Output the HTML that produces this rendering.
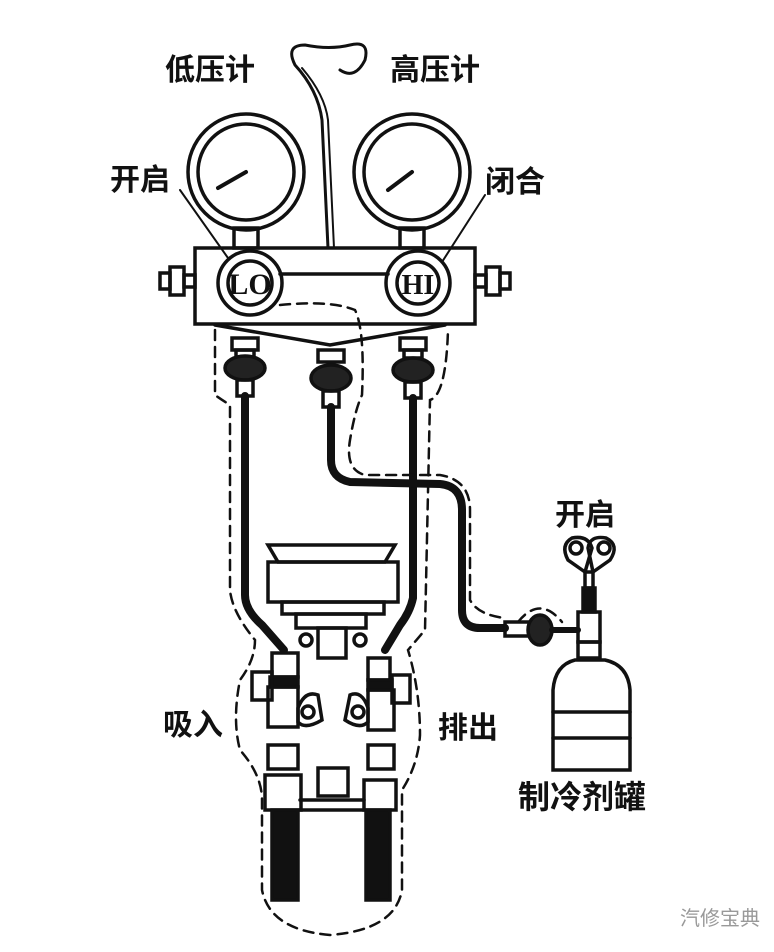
<!DOCTYPE html>
<html><head><meta charset="utf-8"><style>
html,body{margin:0;padding:0;background:#fff;}
svg{display:block;}
text{font-family:"Liberation Sans","Noto Sans CJK SC",sans-serif;fill:#111;}
</style></head><body>
<svg width="774" height="952" viewBox="0 0 774 952" xmlns="http://www.w3.org/2000/svg">
<text x="165" y="80" font-size="30" font-weight="bold">低压计</text>
<text x="390" y="80" font-size="30" font-weight="bold">高压计</text>
<text x="110" y="190" font-size="30" font-weight="bold">开启</text>
<text x="485" y="192" font-size="30" font-weight="bold">闭合</text>
<text x="555" y="525" font-size="30" font-weight="bold">开启</text>
<text x="163" y="735" font-size="30" font-weight="bold">吸入</text>
<text x="438" y="738" font-size="30" font-weight="bold">排出</text>
<text x="518" y="808" font-size="32" font-weight="bold">制冷剂罐</text>
<text x="680" y="925" font-size="20" style="fill:#999">汽修宝典</text>
<text x="250" y="294" font-size="30" text-anchor="middle" style="font-family:'Liberation Serif',serif" font-weight="bold">LO</text>
<text x="418" y="294" font-size="28" text-anchor="middle" style="font-family:'Liberation Serif',serif" font-weight="bold">HI</text>

<g stroke="#111" fill="none" stroke-width="3.5" stroke-linecap="round">
<path d="M328 248 L322 120 Q318 90 295 65 Q285 45 305 45 Q330 50 350 45 Q370 40 365 60 Q355 80 340 70" stroke-width="3"/>
<path d="M334 248 L328 120 Q325 95 302 68" stroke-width="2"/>
<circle cx="246" cy="172" r="58"/>
<circle cx="246" cy="172" r="48"/>
<circle cx="412" cy="172" r="58"/>
<circle cx="412" cy="172" r="48"/>
<line x1="246" y1="172" x2="218" y2="188" stroke-width="4"/>
<line x1="412" y1="172" x2="388" y2="190" stroke-width="4"/>
<rect x="234" y="228" width="24" height="20"/>
<rect x="400" y="228" width="24" height="20"/>
<line x1="180" y1="190" x2="228" y2="258" stroke-width="2"/>
<line x1="485" y1="195" x2="442" y2="262" stroke-width="2"/>
<rect x="195" y="248" width="280" height="76"/>
<line x1="280" y1="274" x2="388" y2="274"/>
<circle cx="250" cy="283" r="32"/>
<circle cx="250" cy="283" r="22"/>
<circle cx="418" cy="283" r="32"/>
<circle cx="418" cy="283" r="21"/>
<rect x="160" y="273" width="10" height="16"/><rect x="170" y="267" width="14" height="28"/><rect x="184" y="275" width="11" height="12"/>
<rect x="475" y="275" width="11" height="12"/><rect x="486" y="267" width="14" height="28"/><rect x="500" y="273" width="10" height="16"/>
<path d="M215 325 L330 345 L445 325"/>
<rect x="232" y="338" width="26" height="12"/><rect x="236" y="350" width="18" height="8"/>
<ellipse cx="245" cy="368" rx="20" ry="12" fill="#222"/>
<rect x="237" y="380" width="16" height="16"/>
<rect x="318" y="350" width="26" height="12"/>
<ellipse cx="331" cy="378" rx="20" ry="13" fill="#222"/>
<rect x="323" y="391" width="16" height="16"/>
<rect x="400" y="338" width="26" height="12"/><rect x="404" y="350" width="18" height="8"/>
<ellipse cx="413" cy="370" rx="20" ry="12" fill="#222"/>
<rect x="405" y="382" width="16" height="16"/>
<path d="M245 396 L245 595 Q245 610 262 625 L284 650" stroke-width="8"/>
<path d="M413 398 L413 598 Q410 612 400 625 L385 650" stroke-width="8"/>
<path d="M331 407 L331 460 Q331 478 350 482 L440 484 Q462 486 462 510 L462 610 Q462 628 480 628 L505 628" stroke-width="8"/>
<path d="M268 545 L395 545 L385 562 L278 562 Z"/>
<rect x="268" y="562" width="130" height="40"/>
<rect x="282" y="602" width="102" height="12"/>
<rect x="296" y="614" width="70" height="14"/>
<rect x="318" y="628" width="28" height="30"/>
<circle cx="306" cy="640" r="6"/><circle cx="360" cy="640" r="6"/>
<rect x="272" y="653" width="26" height="24"/>
<rect x="270" y="677" width="28" height="10" fill="#111"/>
<rect x="268" y="687" width="30" height="40"/>
<rect x="368" y="658" width="22" height="22"/>
<rect x="368" y="680" width="24" height="10" fill="#111"/>
<rect x="368" y="690" width="26" height="40"/>
<path d="M298 708 Q305 690 318 695 L322 720 Q305 730 298 722 Z"/><circle cx="308" cy="712" r="6"/>
<path d="M368 708 Q362 690 350 695 L345 720 Q360 730 368 722 Z"/><circle cx="358" cy="712" r="6"/>
<rect x="252" y="672" width="20" height="28"/>
<rect x="392" y="675" width="18" height="28"/>
<rect x="268" y="745" width="30" height="24"/>
<rect x="368" y="745" width="26" height="24"/>
<rect x="318" y="768" width="30" height="28"/>
<rect x="265" y="775" width="36" height="35"/>
<rect x="364" y="780" width="32" height="30"/>
<line x1="300" y1="800" x2="364" y2="800"/>
<line x1="300" y1="810" x2="364" y2="810"/>
<rect x="272" y="810" width="26" height="90" fill="#111"/>
<rect x="366" y="810" width="24" height="90" fill="#111"/>
<rect x="505" y="622" width="30" height="14"/>
<ellipse cx="540" cy="630" rx="12" ry="15" fill="#222"/>
<line x1="552" y1="630" x2="578" y2="630" stroke-width="6"/>
<rect x="578" y="612" width="22" height="30"/>
<rect x="583" y="588" width="12" height="24" fill="#111"/>
<rect x="585" y="572" width="8" height="16"/>
<path d="M585 572 L568 560 Q560 545 572 538 Q588 535 592 548 Z"/>
<path d="M593 572 L610 560 Q620 545 606 538 Q590 535 588 548 Z"/>
<circle cx="576" cy="548" r="6"/><circle cx="604" cy="548" r="6"/>
<rect x="578" y="642" width="22" height="16"/>
<path d="M553 690 Q555 665 575 660 L605 660 Q628 665 630 690 L630 770 L553 770 Z"/>
<line x1="553" y1="712" x2="630" y2="712"/>
<line x1="553" y1="738" x2="630" y2="738"/>
<g stroke-width="2.5" stroke-dasharray="10 7">
<path d="M215 330 L215 395 Q222 400 230 405 L230 590 Q232 612 255 640 Q255 660 240 680 Q232 720 240 750 Q262 775 262 800 L262 890 Q270 930 330 935 Q395 930 402 890 L402 790 Q418 765 420 735 Q420 690 408 650 L425 630 L430 400 Q446 395 448 330"/>
<path d="M280 305 Q330 300 355 310 Q365 330 362 395 Q355 410 350 440 Q345 470 365 475 L440 475 Q470 480 470 510 L470 600 Q478 615 505 618"/>
<path d="M518 622 Q540 595 562 622"/>
</g>
</g>
</svg>
</body></html>
